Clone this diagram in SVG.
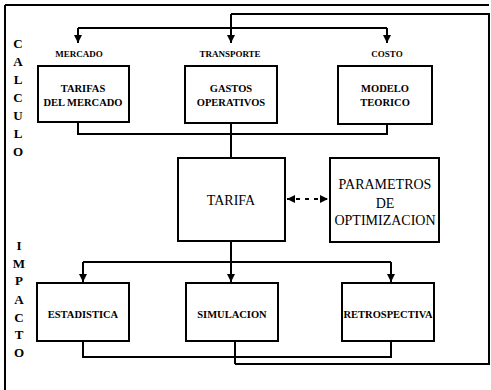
<svg xmlns="http://www.w3.org/2000/svg" width="491" height="390" viewBox="0 0 491 390">
<defs>
<style>
.box{fill:#fff;stroke:#000;stroke-width:2}
.ln{fill:none;stroke:#000;stroke-width:2}
.dash{fill:none;stroke:#000;stroke-width:2;stroke-dasharray:4 5}
text{font-family:'Liberation Serif','Times New Roman',serif;text-anchor:middle;fill:#000}
.t{font-weight:bold;font-size:10.5px}
.s{font-weight:bold;font-size:9px}
.b{font-size:14px}
.side{font-weight:bold;font-size:13px}
</style>
<marker id="ah" viewBox="0 0 8 8" refX="8" refY="4" markerWidth="8" markerHeight="8" markerUnits="userSpaceOnUse" orient="auto-start-reverse">
<path d="M0,0 L8,4 L0,8 Z" fill="#000"/>
</marker>
</defs>
<rect width="491" height="390" fill="#fff"/>

<g id="frame">
<path class="ln" d="M5,5 H489"/>
<path class="ln" d="M5,5 V390"/>
<path class="ln" d="M231,14 H489 V364 H235"/>
</g>

<g id="side-labels">
<text class="side" x="18" y="48">C</text>
<text class="side" x="18" y="66">A</text>
<text class="side" x="18" y="84">L</text>
<text class="side" x="18" y="102">C</text>
<text class="side" x="18" y="120">U</text>
<text class="side" x="18" y="138">L</text>
<text class="side" x="18" y="156">O</text>
<text class="side" x="19" y="250">I</text>
<text class="side" x="19" y="268">M</text>
<text class="side" x="19" y="285">P</text>
<text class="side" x="19" y="304">A</text>
<text class="side" x="19" y="322">C</text>
<text class="side" x="19" y="339">T</text>
<text class="side" x="19" y="357">O</text>
</g>

<g id="connectors">
<path class="ln" d="M231,14 V43" marker-end="url(#ah)"/>
<path class="ln" d="M78,28 H387"/>
<path class="ln" d="M78,28 V43" marker-end="url(#ah)"/>
<path class="ln" d="M387,28 V43" marker-end="url(#ah)"/>
<path class="ln" d="M78,122 V134 H387 V124"/>
<path class="ln" d="M231,124 V158"/>
<path class="dash" d="M287,199 H328" marker-start="url(#ah)" marker-end="url(#ah)"/>
<path class="ln" d="M231,241 V282" marker-end="url(#ah)"/>
<path class="ln" d="M83,262 H391"/>
<path class="ln" d="M83,262 V282" marker-end="url(#ah)"/>
<path class="ln" d="M391,262 V282" marker-end="url(#ah)"/>
<path class="ln" d="M83,341 V357 H391 V341"/>
<path class="ln" d="M235,341 V364"/>
</g>

<g id="lbl-mercado"><text class="s" x="79" y="57">MERCADO</text></g>
<g id="lbl-transporte"><text class="s" x="230" y="57">TRANSPORTE</text></g>
<g id="lbl-costo"><text class="s" x="387" y="57">COSTO</text></g>

<g id="tarifas-mercado">
<rect class="box" x="38" y="66" width="91" height="56"/>
<text class="t" x="83" y="92">TARIFAS</text>
<text class="t" x="83" y="106">DEL MERCADO</text>
</g>
<g id="gastos-operativos">
<rect class="box" x="185" y="66" width="92" height="57"/>
<text class="t" x="231" y="92">GASTOS</text>
<text class="t" x="231" y="106">OPERATIVOS</text>
</g>
<g id="modelo-teorico">
<rect class="box" x="338" y="66" width="94" height="58"/>
<text class="t" x="385" y="92">MODELO</text>
<text class="t" x="385" y="106">TEORICO</text>
</g>
<g id="tarifa">
<rect class="box" x="178" y="158" width="107" height="83"/>
<text class="b" x="231" y="205">TARIFA</text>
</g>
<g id="parametros">
<rect class="box" x="330" y="158" width="109" height="84"/>
<text class="b" x="385" y="189">PARAMETROS</text>
<text class="b" x="385" y="208">DE</text>
<text class="b" x="385" y="225">OPTIMIZACION</text>
</g>
<g id="estadistica">
<rect class="box" x="37" y="283" width="92" height="58"/>
<text class="t" x="83" y="318">ESTADISTICA</text>
</g>
<g id="simulacion">
<rect class="box" x="186" y="283" width="92" height="58"/>
<text class="t" x="232" y="318">SIMULACION</text>
</g>
<g id="retrospectiva">
<rect class="box" x="342" y="283" width="92" height="58"/>
<text class="t" x="388" y="318">RETROSPECTIVA</text>
</g>
</svg>
